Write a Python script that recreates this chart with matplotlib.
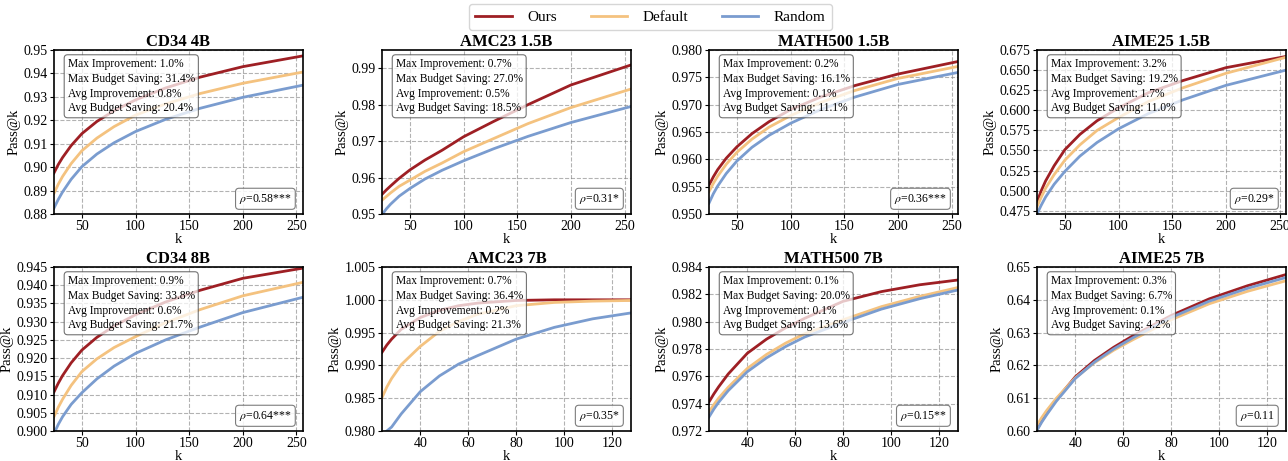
import numpy as np
import matplotlib
matplotlib.use('Agg')
import matplotlib.pyplot as plt

plt.rcParams['font.family'] = ['Liberation Serif', 'DejaVu Serif']
plt.rcParams['mathtext.fontset'] = 'stix'

# k grids
K_LONG = [24, 28, 32, 40, 50, 64, 80, 100, 128, 160, 200, 256]
K_SHORT = [24, 26, 28, 32, 40, 48, 56, 64, 80, 96, 112, 128]

TITLES = ['CD34 4B', 'AMC23 1.5B', 'MATH500 1.5B', 'AIME25 1.5B',
          'CD34 8B', 'AMC23 7B', 'MATH500 7B', 'AIME25 7B']

# pass@k
cd34_4b_ours = [0.8975, 0.9011, 0.9041, 0.9092, 0.9143, 0.9195, 0.9241, 0.9287, 0.9338, 0.9384, 0.9429, 0.9475]
cd34_4b_default = [0.8888, 0.8927, 0.8960, 0.9015, 0.9070, 0.9124, 0.9173, 0.9222, 0.9270, 0.9314, 0.9358, 0.9406]
cd34_4b_random = [0.8825, 0.8862, 0.8894, 0.8948, 0.9002, 0.9056, 0.9104, 0.9152, 0.9204, 0.9251, 0.9298, 0.9350]

amc23_15b_ours = [0.9554, 0.9566, 0.9577, 0.9598, 0.9621, 0.9648, 0.9675, 0.9712, 0.9754, 0.9800, 0.9854, 0.9909]
amc23_15b_default = [0.9538, 0.9548, 0.9558, 0.9576, 0.9593, 0.9617, 0.9640, 0.9671, 0.9707, 0.9748, 0.9792, 0.9843]
amc23_15b_random = [0.9498, 0.9514, 0.9527, 0.9549, 0.9570, 0.9596, 0.9620, 0.9646, 0.9679, 0.9713, 0.9751, 0.9795]

math500_15b_ours = [0.9553, 0.9568, 0.9581, 0.9602, 0.9623, 0.9647, 0.9669, 0.9691, 0.9714, 0.9735, 0.9756, 0.9779]
math500_15b_default = [0.9541, 0.9556, 0.9569, 0.9591, 0.9613, 0.9637, 0.9659, 0.9680, 0.9704, 0.9726, 0.9748, 0.9770]
math500_15b_random = [0.9520, 0.9537, 0.9551, 0.9574, 0.9597, 0.9622, 0.9644, 0.9666, 0.9691, 0.9714, 0.9737, 0.9759]

aime25_15b_ours = [0.486, 0.500, 0.512, 0.531, 0.551, 0.570, 0.587, 0.603, 0.622, 0.637, 0.653, 0.667]
aime25_15b_default = [0.480, 0.492, 0.503, 0.520, 0.538, 0.557, 0.575, 0.591, 0.611, 0.628, 0.646, 0.666]
aime25_15b_random = [0.471, 0.482, 0.492, 0.508, 0.524, 0.543, 0.560, 0.577, 0.596, 0.613, 0.631, 0.650]

cd34_8b_ours = [0.9107, 0.9131, 0.9152, 0.9187, 0.9222, 0.9257, 0.9288, 0.9319, 0.9354, 0.9386, 0.9419, 0.9447]
cd34_8b_default = [0.9039, 0.9065, 0.9087, 0.9125, 0.9163, 0.9198, 0.9229, 0.9259, 0.9297, 0.9333, 0.9371, 0.9408]
cd34_8b_random = [0.8993, 0.9018, 0.9039, 0.9073, 0.9105, 0.9143, 0.9178, 0.9213, 0.9250, 0.9285, 0.9325, 0.9367]

amc23_7b_ours = [0.9920, 0.9931, 0.9940, 0.9955, 0.9973, 0.9984, 0.9991, 0.9995, 0.9999, 1.0000, 1.0000, 1.0000]
amc23_7b_default = [0.9851, 0.9867, 0.9880, 0.9901, 0.9929, 0.9952, 0.9967, 0.9978, 0.9991, 0.9996, 0.9998, 0.9999]
amc23_7b_random = [0.9795, 0.9800, 0.9806, 0.9826, 0.9860, 0.9884, 0.9902, 0.9915, 0.9940, 0.9958, 0.9971, 0.9980]

math500_7b_ours = [0.97413, 0.97471, 0.97523, 0.97617, 0.97769, 0.97872, 0.97955, 0.98025, 0.98149, 0.98220, 0.98270, 0.98305]
math500_7b_default = [0.97340, 0.97393, 0.97440, 0.97520, 0.97658, 0.97760, 0.97843, 0.97912, 0.98014, 0.98110, 0.98185, 0.98250]
math500_7b_random = [0.97303, 0.97360, 0.97410, 0.97495, 0.97634, 0.97735, 0.97818, 0.97888, 0.97994, 0.98092, 0.98168, 0.98232]

aime25_7b_ours = [0.6005, 0.6031, 0.6053, 0.6095, 0.6165, 0.6215, 0.6255, 0.6290, 0.6352, 0.6403, 0.6443, 0.6477]
aime25_7b_default = [0.6018, 0.6041, 0.6062, 0.6099, 0.6162, 0.6208, 0.6246, 0.6278, 0.6339, 0.6388, 0.6426, 0.6458]
aime25_7b_random = [0.6002, 0.6027, 0.6049, 0.6090, 0.6160, 0.6210, 0.6250, 0.6284, 0.6346, 0.6396, 0.6435, 0.6468]

# stats shown in the boxes
MAX_IMPROVEMENT = ['1.0', '0.7', '0.2', '3.2', '0.9', '0.7', '0.1', '0.3']
MAX_SAVING = ['31.4', '27.0', '16.1', '19.2', '33.8', '36.4', '20.0', '6.7']
AVG_IMPROVEMENT = ['0.8', '0.5', '0.1', '1.7', '0.6', '0.2', '0.1', '0.1']
AVG_SAVING = ['20.4', '18.5', '11.1', '11.0', '21.7', '21.3', '13.6', '4.2']
RHO = ['0.58***', '0.31*', '0.36***', '0.29*', '0.64***', '0.35*', '0.15**', '0.11']

YLIMS = [(0.88, 0.95), (0.95, 0.995), (0.95, 0.98), (0.471, 0.675),
         (0.90, 0.945), (0.98, 1.005), (0.972, 0.984), (0.60, 0.65)]
YSTEPS = [0.01, 0.01, 0.005, 0.025, 0.005, 0.005, 0.002, 0.01]

PANELS = [
    (K_LONG, cd34_4b_ours, cd34_4b_default, cd34_4b_random),
    (K_LONG, amc23_15b_ours, amc23_15b_default, amc23_15b_random),
    (K_LONG, math500_15b_ours, math500_15b_default, math500_15b_random),
    (K_LONG, aime25_15b_ours, aime25_15b_default, aime25_15b_random),
    (K_LONG, cd34_8b_ours, cd34_8b_default, cd34_8b_random),
    (K_SHORT, amc23_7b_ours, amc23_7b_default, amc23_7b_random),
    (K_SHORT, math500_7b_ours, math500_7b_default, math500_7b_random),
    (K_SHORT, aime25_7b_ours, aime25_7b_default, aime25_7b_random),
]

COLORS = {'Ours': '#9E1F24', 'Default': '#F4C27F', 'Random': '#7A9CCF'}

fig = plt.figure(figsize=(12.88, 4.61), dpi=100)

lefts = [0.0419, 0.2966, 0.5505, 0.8051]
bottoms = [0.5358, 0.0651]
w, h = 0.1933, 0.3557

for i, (k, ours, default, rand) in enumerate(PANELS):
    ax = fig.add_axes([lefts[i % 4], bottoms[i // 4], w, h])
    ax.plot(k, ours, color=COLORS['Ours'], lw=2.0, label='Ours')
    ax.plot(k, default, color=COLORS['Default'], lw=2.0, label='Default')
    ax.plot(k, rand, color=COLORS['Random'], lw=2.0, label='Random')

    ax.set_xlim(k[0], k[-1])
    ax.set_ylim(*YLIMS[i])
    if k[-1] > 200:
        ax.set_xticks([50, 100, 150, 200, 250])
    else:
        ax.set_xticks([40, 60, 80, 100, 120])
    lo, hi = YLIMS[i]
    step = YSTEPS[i]
    yt = np.arange(np.ceil(lo / step - 1e-6) * step, hi + step / 2, step)
    ax.set_yticks(yt)
    ax.grid(True, linestyle='--', color='gray', lw=0.8, alpha=0.6)
    ax.tick_params(labelsize=10, length=3, width=0.8, pad=1.5)
    for s in ax.spines.values():
        s.set_linewidth(1.2)
        s.set_color('black')

    ax.set_title(TITLES[i], fontsize=12, fontweight='bold', pad=3)
    ax.set_xlabel('k', fontsize=10.5, labelpad=0)
    ax.set_ylabel('Pass@k', fontsize=10.5, labelpad=2)

    stats = (f"Max Improvement: {MAX_IMPROVEMENT[i]}%\n"
             f"Max Budget Saving: {MAX_SAVING[i]}%\n"
             f"Avg Improvement: {AVG_IMPROVEMENT[i]}%\n"
             f"Avg Budget Saving: {AVG_SAVING[i]}%")
    ax.text(0.055, 0.95, stats, transform=ax.transAxes, fontsize=8.3,
            va='top', ha='left', linespacing=1.3,
            bbox=dict(boxstyle='round,pad=0.3', facecolor='white',
                      edgecolor='#444444', alpha=0.75, lw=0.8))
    ax.text(0.955, 0.05, f"$\\rho$={RHO[i]}", transform=ax.transAxes,
            fontsize=8.5, va='bottom', ha='right',
            bbox=dict(boxstyle='round,pad=0.3', facecolor='white',
                      edgecolor='#666666', alpha=0.85, lw=0.8))

    if i == 0:
        handles, labels = ax.get_legend_handles_labels()

fig.legend(handles, labels, loc='center', bbox_to_anchor=(0.505, 0.963),
           ncol=3, fontsize=11, frameon=True, handlelength=2.4,
           columnspacing=2.2, borderpad=0.4, handletextpad=1.0)

fig.savefig('out.png', dpi=100)
